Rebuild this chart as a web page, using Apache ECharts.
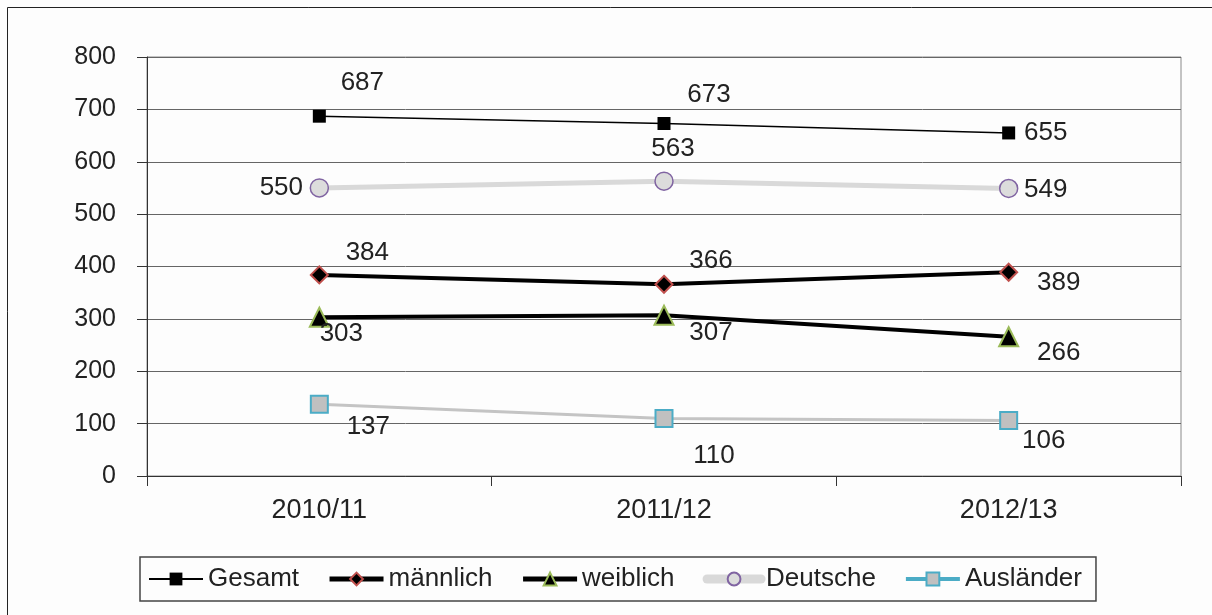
<!DOCTYPE html>
<html><head><meta charset="utf-8">
<script src="https://cdn.jsdelivr.net/npm/echarts@6/dist/echarts.min.js"></script>
<style>html,body{margin:0;padding:0;background:#fdfdfd}#c{width:1212px;height:615px}</style>
</head><body><div id="c"></div>
<script>
const categories = ['2010/11', '2011/12', '2012/13'];
const yTicks = [0, 100, 200, 300, 400, 500, 600, 700, 800];
const gesamt = [687, 673, 655];
const maennlich = [384, 366, 389];
const weiblich = [303, 307, 266];
const deutsche = [550, 563, 549];
const auslaender = [137, 110, 106];

// label offsets (pixels) per point
const offGesamt = [[43,-33],[45,-29],[37,0]];
const offM = [[48,-22],[47,-23],[50,11]];
const offW = [[22,17],[47,18],[50,16]];
const offD = [[-38,0],[9,-32],[37,1]];
const offA = [[49,23],[50,37],[35,20]];

const FONT = 'Liberation Sans';
function withLabels(vals, offs){
  return vals.map((v,i)=>({value:v,label:{show:true,position:'inside',offset:offs[i],fontSize:26,color:'#222',fontFamily:FONT}}));
}
const chart = echarts.init(document.getElementById('c'));
chart.setOption({
  backgroundColor:'#fdfdfd',
  animation:false,
  graphic:[{type:'rect',shape:{x:7.5,y:7.5,width:1400,height:800},style:{fill:'none',stroke:'#222',lineWidth:1},silent:true}],
  grid:{left:147,right:31,top:57,bottom:139,show:true,borderColor:'#8a8a8a',borderWidth:1,backgroundColor:'transparent'},
  xAxis:{type:'category',data:categories,boundaryGap:true,
    axisLine:{lineStyle:{color:'#333',width:1}},
    axisTick:{show:true,length:10,lineStyle:{color:'#333'}},
    axisLabel:{fontSize:27,color:'#222',fontFamily:FONT,margin:21}},
  yAxis:{type:'value',min:yTicks[0],max:yTicks[yTicks.length-1],interval:100,
    axisLine:{show:true,lineStyle:{color:'#333',width:1}},
    axisTick:{show:true,length:10,lineStyle:{color:'#333'}},
    splitLine:{lineStyle:{color:'#666',width:1}},
    axisLabel:{fontSize:25,color:'#222',fontFamily:FONT,margin:31}},
  legend:{left:140,top:557,padding:[9,14,9,8],borderColor:'#444',borderWidth:1.5,
    itemWidth:54,itemHeight:16,itemGap:28,
    textStyle:{fontSize:26,color:'#222',fontFamily:FONT},
    data:[
      {name:'Gesamt',lineStyle:{width:2}},
      {name:'männlich',lineStyle:{width:5}},
      {name:'weiblich',lineStyle:{width:5}},
      {name:'Deutsche',lineStyle:{width:9,cap:'round'}},
      {name:'Ausländer',lineStyle:{width:4,color:'#4bacc6'}}
    ]},
  series:[
    {name:'Ausländer',type:'line',data:withLabels(auslaender,offA),symbol:'rect',symbolSize:17,
      lineStyle:{color:'#c4c4c4',width:3},itemStyle:{color:'#c0c0c0',borderColor:'#4bacc6',borderWidth:2},z:2},
    {name:'Deutsche',type:'line',data:withLabels(deutsche,offD),symbol:'circle',symbolSize:18,
      lineStyle:{color:'#d9d9d9',width:5},itemStyle:{color:'#dcdcdc',borderColor:'#8064a2',borderWidth:1.5},z:2},
    {name:'weiblich',type:'line',data:withLabels(weiblich,offW),symbol:'triangle',symbolSize:19,
      lineStyle:{color:'#000',width:4},itemStyle:{color:'#000',borderColor:'#9bbb59',borderWidth:2},z:3},
    {name:'männlich',type:'line',data:withLabels(maennlich,offM),symbol:'diamond',symbolSize:17,
      lineStyle:{color:'#000',width:4},itemStyle:{color:'#000',borderColor:'#c0504d',borderWidth:2},z:3},
    {name:'Gesamt',type:'line',data:withLabels(gesamt,offGesamt),symbol:'rect',symbolSize:13,
      lineStyle:{color:'#000',width:1.5},itemStyle:{color:'#000',borderColor:'#000',borderWidth:0},z:4}
  ]
});
</script></body></html>
